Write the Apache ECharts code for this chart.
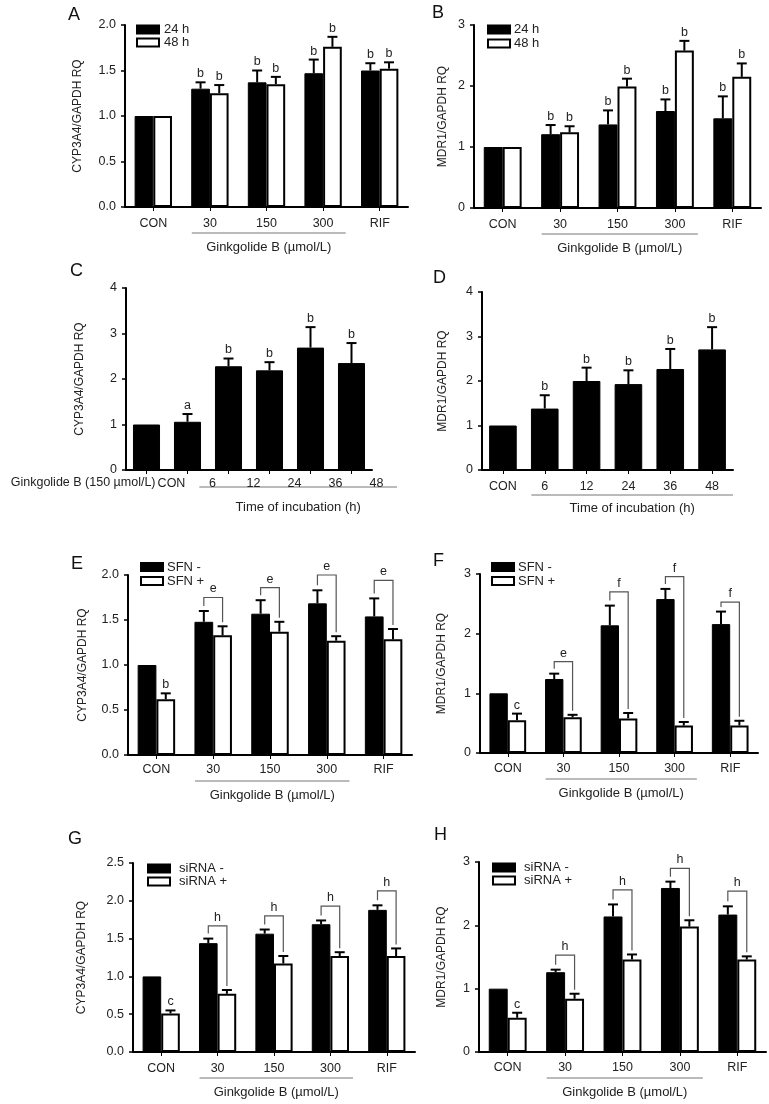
<!DOCTYPE html>
<html><head><meta charset="utf-8">
<script src="https://cdn.jsdelivr.net/npm/echarts@6/dist/echarts.min.js"></script>
<style>html,body{margin:0;padding:0;background:#fff}#c{width:769px;height:1104px}</style>
</head><body><div id="c"></div>
<script>
// ---------- categories ----------
const catsDose = ['CON', '30', '150', '300', 'RIF'];
const catsTime = ['CON', '6', '12', '24', '36', '48'];

// ---------- A : CYP3A4, 24 h / 48 h ----------
const a24 = [1.00, 1.30, 1.37, 1.47, 1.50];
const a24Sd = [0, 0.07, 0.13, 0.15, 0.08];
const a24Sig = ['', 'b', 'b', 'b', 'b'];
const a48 = [1.00, 1.25, 1.35, 1.76, 1.52];
const a48Sd = [0, 0.09, 0.08, 0.11, 0.07];
const a48Sig = ['', 'b', 'b', 'b', 'b'];

// ---------- B : MDR1, 24 h / 48 h ----------
const b24 = [1.00, 1.21, 1.37, 1.59, 1.47];
const b24Sd = [0, 0.15, 0.23, 0.19, 0.36];
const b24Sig = ['', 'b', 'b', 'b', 'b'];
const b48 = [1.00, 1.24, 1.99, 2.58, 2.15];
const b48Sd = [0, 0.10, 0.13, 0.16, 0.22];
const b48Sig = ['', 'b', 'b', 'b', 'b'];

// ---------- C : CYP3A4 time course ----------
const cVals = [1.00, 1.06, 2.28, 2.19, 2.69, 2.35];
const cSd = [0, 0.17, 0.17, 0.18, 0.45, 0.44];
const cSig = ['', 'a', 'b', 'b', 'b', 'b'];

// ---------- D : MDR1 time course ----------
const dVals = [1.00, 1.38, 2.00, 1.93, 2.27, 2.71];
const dSd = [0, 0.30, 0.30, 0.31, 0.45, 0.50];
const dSig = ['', 'b', 'b', 'b', 'b', 'b'];

// ---------- E : CYP3A4, SFN - / SFN + ----------
const eMinus = [1.00, 1.48, 1.57, 1.685, 1.54];
const eMinusSd = [0, 0.12, 0.15, 0.145, 0.20];
const ePlus = [0.62, 1.33, 1.37, 1.27, 1.285];
const ePlusSd = [0.065, 0.10, 0.11, 0.05, 0.115];
const ePlusSig = ['b', '', '', '', ''];
const eBrTop = [null, 1.75, 1.86, 2.00, 1.94];
const eBrSig = ['', 'e', 'e', 'e', 'e'];

// ---------- F : MDR1, SFN - / SFN + ----------
const fMinus = [1.00, 1.24, 2.14, 2.58, 2.16];
const fMinusSd = [0, 0.09, 0.33, 0.17, 0.21];
const fPlus = [0.55, 0.60, 0.58, 0.46, 0.46];
const fPlusSd = [0.11, 0.04, 0.09, 0.06, 0.08];
const fPlusSig = ['c', '', '', '', ''];
const fBrTop = [null, 1.53, 2.70, 2.955, 2.53];
const fBrSig = ['', 'e', 'f', 'f', 'f'];

// ---------- G : CYP3A4, siRNA - / siRNA + ----------
const gMinus = [1.00, 1.44, 1.565, 1.69, 1.88];
const gMinusSd = [0, 0.06, 0.055, 0.05, 0.06];
const gPlus = [0.51, 0.77, 1.17, 1.27, 1.27];
const gPlusSd = [0.04, 0.05, 0.10, 0.05, 0.10];
const gPlusSig = ['c', '', '', '', ''];
const gBrTop = [null, 1.667, 1.80, 1.93, 2.13];
const gBrSig = ['', 'h', 'h', 'h', 'h'];

// ---------- H : MDR1, siRNA - / siRNA + ----------
const hMinus = [1.00, 1.26, 2.14, 2.59, 2.17];
const hMinusSd = [0, 0.04, 0.19, 0.10, 0.13];
const hPlus = [0.54, 0.84, 1.46, 1.98, 1.46];
const hPlusSd = [0.08, 0.08, 0.08, 0.10, 0.05];
const hPlusSig = ['c', '', '', '', ''];
const hBrTop = [null, 1.53, 2.56, 2.90, 2.54];
const hBrSig = ['', 'h', 'h', 'h', 'h'];

const noSig5 = ['', '', '', '', ''];

// ---------- layout / style ----------
const FONT = '"Liberation Sans", Arial, Helvetica, sans-serif';
const TXT = '#222';
const BAR_FRAC = 0.33;

const panels = [
  { letter: 'A', lx: 68, ly: 6, grid: { left: 125, top: 25, width: 283, height: 182 }, cats: catsDose, max: 2, interval: 0.5, dec: 1,
    yName: 'CYP3A4/GAPDH RQ', nameGap: 41, xMargin: 10,
    series: [{ name: '24 h', v: a24, sd: a24Sd, sig: a24Sig }, { name: '48 h', v: a48, sd: a48Sd, sig: a48Sig }],
    legend: { left: 136, top: 23, lh: 11, gap: 0, tp: 5 } },
  { letter: 'B', lx: 432, ly: 4, grid: { left: 474, top: 25, width: 287, height: 183 }, cats: catsDose, max: 3, interval: 1, dec: 0,
    yName: 'MDR1/GAPDH RQ', nameGap: 25, xMargin: 10,
    series: [{ name: '24 h', v: b24, sd: b24Sd, sig: b24Sig }, { name: '48 h', v: b48, sd: b48Sd, sig: b48Sig }],
    legend: { left: 487, top: 23, lh: 11, gap: 1, tp: 4 } },
  { letter: 'C', lx: 70, ly: 262, grid: { left: 126, top: 288, width: 246, height: 182 }, cats: catsTime, max: 4, interval: 1, dec: 0,
    yName: 'CYP3A4/GAPDH RQ', nameGap: 40, xMargin: 7, shift: 25,
    series: [{ name: 'C', v: cVals, sd: cSd, sig: cSig }] },
  { letter: 'D', lx: 433, ly: 269, grid: { left: 482, top: 292, width: 251, height: 178 }, cats: catsTime, max: 4, interval: 1, dec: 0,
    yName: 'MDR1/GAPDH RQ', nameGap: 33, xMargin: 10,
    series: [{ name: 'D', v: dVals, sd: dSd, sig: dSig }] },
  { letter: 'E', lx: 71, ly: 555, grid: { left: 128, top: 575, width: 284, height: 180 }, cats: catsDose, max: 2, interval: 0.5, dec: 1,
    yName: 'CYP3A4/GAPDH RQ', nameGap: 39, xMargin: 8,
    series: [{ name: 'SFN -', v: eMinus, sd: eMinusSd, sig: noSig5 }, { name: 'SFN +', v: ePlus, sd: ePlusSd, sig: ePlusSig }],
    br: { top: eBrTop, sig: eBrSig },
    legend: { left: 140, top: 560, lh: 14, gap: 0, tp: 4 } },
  { letter: 'F', lx: 433, ly: 552, grid: { left: 480, top: 574, width: 278, height: 179 }, cats: catsDose, max: 3, interval: 1, dec: 0,
    yName: 'MDR1/GAPDH RQ', nameGap: 32, xMargin: 9,
    series: [{ name: 'SFN -', v: fMinus, sd: fMinusSd, sig: noSig5 }, { name: 'SFN +', v: fPlus, sd: fPlusSd, sig: fPlusSig }],
    br: { top: fBrTop, sig: fBrSig },
    legend: { left: 491, top: 560, lh: 14, gap: 0, tp: 4 } },
  { letter: 'G', lx: 68, ly: 830, grid: { left: 133, top: 863, width: 282, height: 189 }, cats: catsDose, max: 2.5, interval: 0.5, dec: 1,
    yName: 'CYP3A4/GAPDH RQ', nameGap: 45, xMargin: 10,
    series: [{ name: 'siRNA -', v: gMinus, sd: gMinusSd, sig: noSig5 }, { name: 'siRNA +', v: gPlus, sd: gPlusSd, sig: gPlusSig }],
    br: { top: gBrTop, sig: gBrSig },
    legend: { left: 147, top: 862, lh: 12.5, gap: 0, tp: 9 } },
  { letter: 'H', lx: 434, ly: 826, grid: { left: 479, top: 862, width: 287, height: 190 }, cats: catsDose, max: 3, interval: 1, dec: 0,
    yName: 'MDR1/GAPDH RQ', nameGap: 31, xMargin: 9,
    series: [{ name: 'siRNA -', v: hMinus, sd: hMinusSd, sig: noSig5 }, { name: 'siRNA +', v: hPlus, sd: hPlusSd, sig: hPlusSig }],
    br: { top: hBrTop, sig: hBrSig },
    legend: { left: 492, top: 861, lh: 12.5, gap: 0, tp: 9 } }
];

const grids = [], xAxes = [], yAxes = [], series = [], legends = [];

panels.forEach((p, g) => {
  grids.push(Object.assign({ containLabel: false }, p.grid));
  const shift = p.shift || 0;
  xAxes.push({
    gridIndex: g, type: 'category', data: p.cats,
    axisLine: { show: true, onZero: false, lineStyle: { color: '#000', width: 2 } },
    axisTick: { show: true, alignWithLabel: true, length: 4, lineStyle: { color: '#000', width: 1 } },
    axisLabel: { color: TXT, fontSize: 12.5, fontFamily: FONT, margin: p.xMargin, interval: 0,
      padding: shift ? [0, 0, 0, shift * 2] : 0 },
    splitLine: { show: false }
  });
  yAxes.push({
    gridIndex: g, type: 'value', min: 0, max: p.max, interval: p.interval,
    axisLine: { show: true, lineStyle: { color: '#000', width: 2 } },
    axisTick: { show: true, length: 4, lineStyle: { color: '#000', width: 1.5 } },
    axisLabel: { color: TXT, fontSize: 12.5, fontFamily: FONT, margin: 9,
      formatter: v => v.toFixed(p.dec) },
    splitLine: { show: false },
    name: p.yName, nameLocation: 'middle', nameGap: p.nameGap,
    nameTextStyle: { color: TXT, fontSize: 12, fontFamily: FONT }
  });

  const n = p.series.length;
  p.series.forEach((s, k) => {
    const white = n === 2 && k === 1;
    series.push({
      type: 'bar', name: s.name, xAxisIndex: g, yAxisIndex: g,
      data: s.v, barWidth: n === 2 ? (BAR_FRAC * 100) + '%' : '66%', barGap: '0%',
      itemStyle: { color: white ? '#fff' : '#000', borderColor: '#000', borderWidth: white ? 2 : 1 },
      emphasis: { disabled: true }, silent: true, animation: false, z: 2
    });
    const off = n === 2 ? (k === 0 ? -BAR_FRAC / 2 : BAR_FRAC / 2) : 0;
    const sigArr = s.sig;
    series.push({
      type: 'custom', xAxisIndex: g, yAxisIndex: g, silent: true, animation: false, clip: false, z: 5,
      data: s.v.map((v, i) => [i, v, s.sd[i]]),
      renderItem: (params, api) => {
        const i = api.value(0), v = api.value(1), sd = api.value(2);
        const band = api.size([1, 0])[0];
        const c = api.coord([i, v]);
        const x = c[0] + off * band;
        const yTop = api.coord([i, v + sd])[1];
        const children = [];
        if (sd > 0) {
          children.push({ type: 'line', shape: { x1: x, y1: c[1], x2: x, y2: yTop }, style: { stroke: '#000', lineWidth: 2 } });
          children.push({ type: 'line', shape: { x1: x - 5, y1: yTop, x2: x + 5, y2: yTop }, style: { stroke: '#000', lineWidth: 2 } });
        }
        const sig = sigArr[params.dataIndex];
        if (sig) {
          children.push({ type: 'text', x: x, y: yTop - 2,
            style: { text: sig, font: '12.5px ' + FONT, fill: TXT, align: 'center', verticalAlign: 'bottom' } });
        }
        return { type: 'group', children };
      }
    });
  });

  if (p.br) {
    const s0 = p.series[0], s1 = p.series[1];
    const brSig = p.br.sig;
    series.push({
      type: 'custom', xAxisIndex: g, yAxisIndex: g, silent: true, animation: false, clip: false, z: 6,
      data: p.br.top.map((t, i) => t == null ? [i, '-', 0, 0] : [i, t, s0.v[i] + s0.sd[i], s1.v[i] + s1.sd[i]]),
      renderItem: (params, api) => {
        const t = api.value(1);
        if (isNaN(t)) return { type: 'group', children: [] };
        const i = api.value(0);
        const band = api.size([1, 0])[0];
        const cx = api.coord([i, 0])[0];
        const xL = cx - BAR_FRAC / 2 * band, xR = cx + BAR_FRAC / 2 * band;
        const yT = api.coord([i, t])[1];
        const yL = Math.max(yT + 5, api.coord([i, api.value(2)])[1] - 5);
        const yR = api.coord([i, api.value(3)])[1] - 4;
        return { type: 'group', children: [
          { type: 'polyline', shape: { points: [[xL, yL], [xL, yT], [xR, yT], [xR, yR]] },
            style: { stroke: '#555', lineWidth: 1.2, fill: null } },
          { type: 'text', x: cx, y: yT - 2,
            style: { text: brSig[params.dataIndex], font: '12.5px ' + FONT, fill: TXT, align: 'center', verticalAlign: 'bottom' } }
        ] };
      }
    });
  }

  if (p.legend) {
    const L = p.legend;
    legends.push({
      data: p.series.map(s => s.name), orient: 'vertical', left: L.left, top: L.top, padding: 0,
      itemGap: L.gap, itemWidth: 22, itemHeight: 8, icon: 'rect', selectedMode: false,
      textStyle: { color: TXT, fontSize: 13, fontFamily: FONT, lineHeight: L.lh, padding: [0, 0, 0, L.tp - 5] },
      itemStyle: { borderColor: '#000', borderWidth: 2 }
    });
  }
});

const chart = echarts.init(document.getElementById('c'), null, { renderer: 'canvas', width: 769, height: 1104 });
chart.setOption({
  backgroundColor: '#fff', animation: false,
  grid: grids, xAxis: xAxes, yAxis: yAxes, series: series, legend: legends
});

// ---------- annotations (panel letters, group lines, group titles) ----------
const graphics = [];
panels.forEach((p, g) => {
  graphics.push({ type: 'text', x: p.lx, y: p.ly, style: { text: p.letter, font: '18px ' + FONT, fill: '#111' } });
  const P = (x, y) => chart.convertToPixel({ gridIndex: g }, [x, y]);
  const c0 = P(0, 0), c1 = P(1, 0);
  const band = c1[0] - c0[0];
  const axisY = c0[1];
  const shift = p.shift || 0;
  let x1, x2, title, lineDy, titleDy;
  if (p.cats === catsDose) {
    x1 = P(1, 0)[0] - 0.32 * band;
    x2 = P(3, 0)[0] + 0.40 * band;
    title = 'Ginkgolide B (µmol/L)';
    lineDy = 26; titleDy = 40;
  } else {
    x1 = P(1, 0)[0] - 0.32 * band + shift;
    x2 = P(5, 0)[0] + 0.5 * band + shift;
    title = 'Time of incubation (h)';
    lineDy = shift ? 17 : 25; titleDy = shift ? 37 : 38;
  }
  graphics.push({ type: 'line', shape: { x1: x1, y1: axisY + lineDy, x2: x2, y2: axisY + lineDy },
    style: { stroke: '#777', lineWidth: 1 } });
  graphics.push({ type: 'text', x: (x1 + x2) / 2, y: axisY + titleDy,
    style: { text: title, font: '13px ' + FONT, fill: TXT, align: 'center', verticalAlign: 'middle' } });
  if (shift) {
    graphics.push({ type: 'text', x: c0[0] + shift - 16, y: axisY + 13,
      style: { text: 'Ginkgolide B (150 µmol/L)', font: '12.5px ' + FONT, fill: TXT, align: 'right', verticalAlign: 'middle' } });
  }
});
chart.setOption({ graphic: graphics });
</script>
</body></html>
